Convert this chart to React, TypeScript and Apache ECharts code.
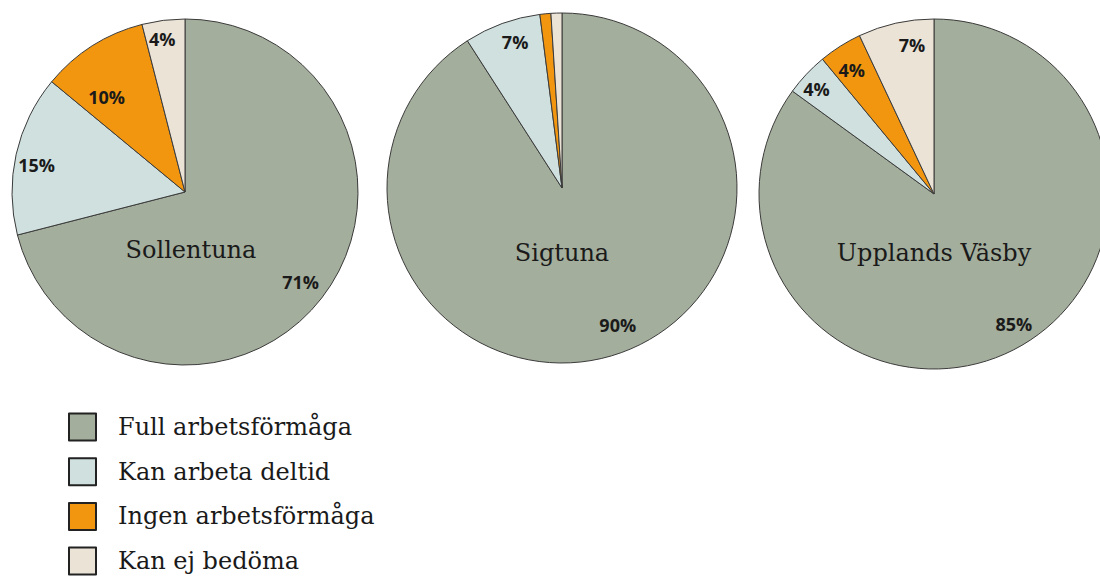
import React, { useEffect, useRef } from "react";
import * as echarts from "echarts";

const categories = ["Full arbetsförmåga", "Kan arbeta deltid", "Ingen arbetsförmåga", "Kan ej bedöma"];
const municipalities = ["Sollentuna", "Sigtuna", "Upplands Väsby"];
const sollentunaValues = [71, 15, 10, 4];
const sigtunaValues = [90, 7, 1, 1];
const vasbyValues = [85, 4, 4, 7];
const colors = ["#a4ae9c", "#cfe0df", "#f3960f", "#ebe3d6"];

const pies = [
  { name: municipalities[0], values: sollentunaValues, center: [185, 192], r: 173, titleX: 191, titleY: 250, offsets: [[-3, -2], [-2, 6], [2, 32], [-4, -4]] },
  { name: municipalities[1], values: sigtunaValues, center: [562, 188], r: 175, titleX: 562, titleY: 253, offsets: [[13, -9], [5, -3], [0, 0], [0, 0]] },
  { name: municipalities[2], values: vasbyValues, center: [934, 194], r: 175, titleX: 934, titleY: 253, offsets: [[11, -5], [-7, -1], [-1, 4], [11, -1]] },
];

const serif = "'DejaVu Serif', 'Liberation Serif', serif";

export default function App() {
  const ref = useRef<HTMLDivElement>(null);
  useEffect(() => {
    document.body.style.margin = "0";
    const chart = echarts.init(ref.current!, undefined, { renderer: "svg" });
    const series: any[] = [];
    pies.forEach((p) => {
      series.push({
        type: "pie",
        name: p.name,
        center: p.center,
        radius: [0, p.r],
        startAngle: 90,
        clockwise: true,
        silent: true,
        label: { show: false },
        labelLine: { show: false },
        itemStyle: { borderColor: "#3b3b3b", borderWidth: 1 },
        data: categories.map((c, i) => ({ name: c, value: p.values[i], itemStyle: { color: colors[i] } })),
      });
    });
    pies.forEach((p) => {
      series.push({
        type: "pie",
        name: p.name + " labels",
        center: p.center,
        radius: [p.r * 0.7, p.r],
        startAngle: 90,
        clockwise: true,
        silent: true,
        z: 5,
        itemStyle: { color: "rgba(0,0,0,0)", borderWidth: 0 },
        labelLine: { show: false },
        label: {
          show: true,
          position: "inside",
          formatter: "{c}%",
          fontFamily: "'Open Sans', sans-serif",
          fontWeight: "bold",
          fontSize: 18,
          color: "#1a1a1a",
        },
        data: categories.map((c, i) => ({
          name: c,
          value: p.values[i],
          label: { show: p.values[i] >= 2, offset: p.offsets[i] },
        })),
      });
    });
    chart.setOption({
      animation: false,
      color: colors,
      title: pies.map((p) => ({
        text: p.name,
        left: p.titleX,
        top: p.titleY - 12,
        padding: 0,
        textAlign: "center",
        textStyle: { fontFamily: serif, fontWeight: "normal", fontSize: 24, color: "#1a1a1a" },
      })),
      legend: {
        orient: "vertical",
        left: 68,
        top: 410,
        height: 260,
        padding: 0,
        itemWidth: 27,
        itemHeight: 27,
        itemGap: 10.7,
        icon: "rect",
        selectedMode: false,
        data: categories,
        itemStyle: { borderColor: "#222222", borderWidth: 2 },
        textStyle: { fontFamily: serif, fontSize: 24, lineHeight: 24, color: "#1a1a1a", padding: [10, 0, 0, 17] },
      },
      series,
    });
    return () => chart.dispose();
  }, []);
  return <div ref={ref} style={{ width: 1100, height: 579 }} />;
}
